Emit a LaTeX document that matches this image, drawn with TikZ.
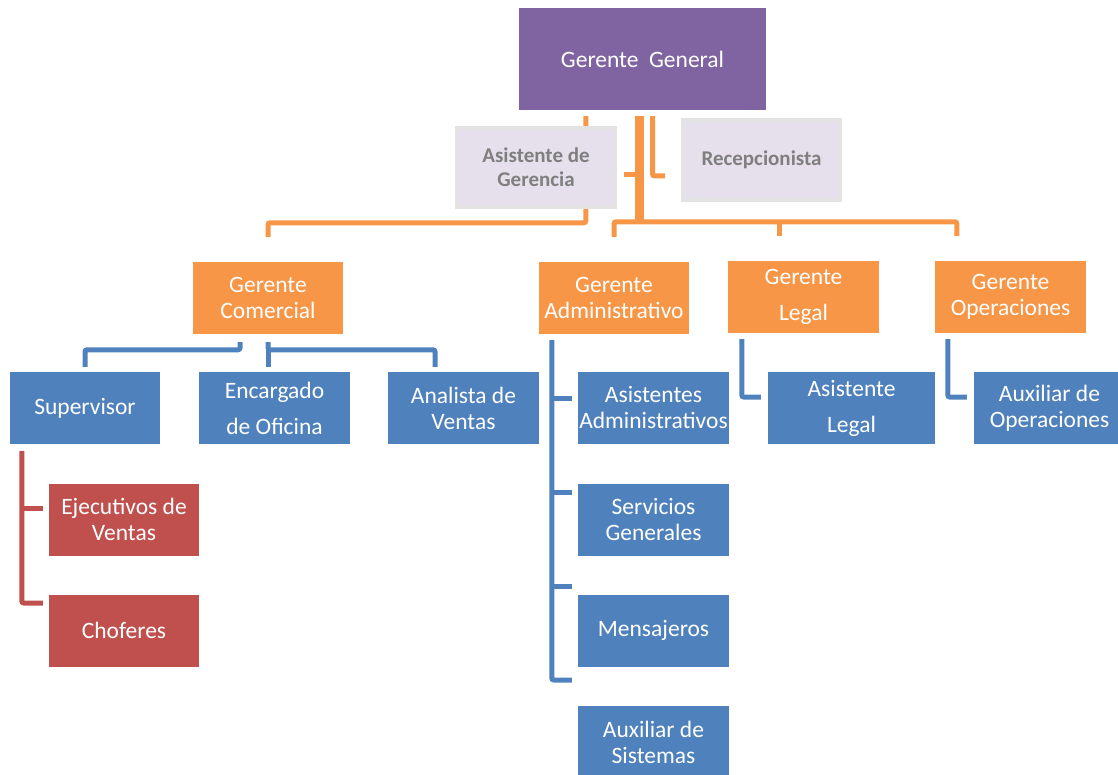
\documentclass[tikz,border=0pt]{standalone}
\usepackage{fontspec}
\setmainfont{Carlito}
\usetikzlibrary{positioning,backgrounds}
\definecolor{jefe}{HTML}{8064A2}
\definecolor{gerencia}{HTML}{F79646}
\definecolor{area}{HTML}{4F81BD}
\definecolor{cuadrilla}{HTML}{C0504D}
\definecolor{apoyo}{HTML}{E5E0EC}
\definecolor{apoyoborde}{HTML}{E3E3E3}
\definecolor{apoyotexto}{HTML}{7F7F7F}
\tikzset
{
    boss/.style     = {rectangle, fill=jefe, text=white, align=center, inner sep=0pt, minimum width=247pt, minimum height=102pt},
    staff/.style    = {rectangle, fill=apoyo, draw=apoyoborde, line width=4pt, text=apoyotexto, align=center, inner sep=0pt, font=\bfseries\fontsize{21}{24}\selectfont},
    manager/.style  = {rectangle, fill=gerencia, text=white, align=center, inner sep=0pt, minimum width=150pt, minimum height=72pt},
    unit/.style     = {rectangle, fill=area, text=white, align=center, inner sep=0pt, minimum width=151pt, minimum height=72pt},
    crew/.style     = {rectangle, fill=cuadrilla, text=white, align=center, inner sep=0pt, minimum width=150pt, minimum height=72pt},
    loosetext/.style= {font=\fontsize{23.5}{36}\selectfont},
    orgline/.style  = {draw=gerencia, line width=5pt, rounded corners=2pt},
    unitline/.style = {draw=area, line width=5pt, rounded corners=2pt},
    crewline/.style = {draw=cuadrilla, line width=5pt, rounded corners=2pt}
}

\begin{document}
\begin{tikzpicture}[x=1pt, y=-1pt, font=\fontsize{23.5}{26}\selectfont]
   \newcommand\DROPTOP{-39}
   \newcommand\DROPEND{-25}
   \useasboundingbox (0,0) rectangle (1118,775);

   % top level
   \node (gg)  [boss]                                    at (642.5, 59)   {Gerente\ \ General};
   \node (ag)  [staff, minimum width=158pt, minimum height=79pt] at (536, 167.5) {Asistente de\\Gerencia};
   \node (rc)  [staff, minimum width=157pt, minimum height=80pt] at (761.5, 160) {Recepcionista};

   % managers
   \node (gc)  [manager]                                 at (268, 298)    {Gerente\\Comercial};
   \node (gad) [manager]                                 at (614, 298)    {Gerente\\Administrativo};
   \node (gl)  [manager, minimum width=151pt, loosetext] at (803.5, 297)  {Gerente\\Legal};
   \node (gop) [manager, minimum width=151pt]            at (1010.5, 297) {Gerente\\Operaciones};

   % comercial
   \node (sup) [unit, minimum width=150pt]               at (85, 408)     {Supervisor};
   \node (enc) [unit, loosetext]                         at (274.5, 408)  {Encargado\\de Oficina};
   \node (ana) [unit]                                    at (463.5, 408)  {Analista de\\Ventas};
   \node (eje) [crew]                                    at (124, 519.5)  {Ejecutivos de\\Ventas};
   \node (cho) [crew]                                    at (124, 630.5)  {Choferes};

   % administrativo
   \node (asa) [unit]                                    at (653.5, 408)  {Asistentes\\Administrativos};
   \node (ser) [unit]                                    at (653.5, 519.5){Servicios\\Generales};
   \node (men) [unit]                                    at (653.5, 630.5){Mensajeros};
   \node (axs) [unit]                                    at (653.5, 742)  {Auxiliar de\\Sistemas};

   % legal y operaciones
   \node (asl) [unit, minimum width=167pt, loosetext]    at (851.5, 408)  {Asistente\\Legal};
   \node (axo) [unit]                                    at (1049.5, 408) {Auxiliar de\\Operaciones};

   \begin{pgfonlayer}{background}
      % gerencia
      \draw[orgline] ([shift={(67,6)}]gg.south west) |- ([shift={(0,\DROPTOP)}]gc.north) -- ([shift={(0,\DROPEND)}]gc.north);
      \draw[orgline, line width=9pt, rounded corners=0pt] ([shift={(-3,6)}]gg.south) -- ([shift={(-3,113)}]gg.south);
      \draw[orgline] ([shift={(0,\DROPEND)}]gad.north) |- ([shift={(22,\DROPTOP)}]gop.north west) -- ([shift={(22,\DROPEND)}]gop.north west);
      \draw[orgline] ([shift={(52,\DROPTOP)}]gl.north west) -- ([shift={(52,\DROPEND)}]gl.north west);
      \draw[orgline] ([shift={(7,7.5)}]ag.east) -- ++(12,0);
      \draw[orgline] ([shift={(10,6)}]gg.south) |- ([shift={(-16,16)}]rc.west);
   \end{pgfonlayer}

   % comercial
   \draw[unitline] ([shift={(-28,8)}]gc.south) |- ([shift={(0,-22)}]sup.north) -- ([shift={(0,-5)}]sup.north);
   \draw[unitline] ([shift={(0,8)}]gc.south) |- ([shift={(-28.5,-22)}]ana.north) -- ([shift={(-28.5,-5)}]ana.north);
   \draw[unitline] ([shift={(0,16)}]gc.south) -- ([shift={(-6.5,-5)}]enc.north);
   \draw[crewline] ([shift={(12,7)}]sup.south west) |- ([shift={(-6,-27.5)}]cho.west);
   \draw[crewline] ([shift={(-27,-11.5)}]eje.west) -- ([shift={(-6,-11.5)}]eje.west);

   % administrativo
   \draw[unitline] ([shift={(13,6)}]gad.south west) |- ([shift={(-6,-62)}]axs.west);
   \draw[unitline] ([shift={(-26,-10)}]asa.west) -- ([shift={(-6,-10)}]asa.west);
   \draw[unitline] ([shift={(-26,-27.5)}]ser.west) -- ([shift={(-6,-27.5)}]ser.west);
   \draw[unitline] ([shift={(-26,-44.5)}]men.west) -- ([shift={(-6,-44.5)}]men.west);

   % legal y operaciones
   \draw[unitline] ([shift={(14,6)}]gl.south west) |- ([shift={(-7,-11)}]asl.west);
   \draw[unitline] ([shift={(13,6)}]gop.south west) |- ([shift={(-7,-11)}]axo.west);
\end{tikzpicture}
\end{document}
